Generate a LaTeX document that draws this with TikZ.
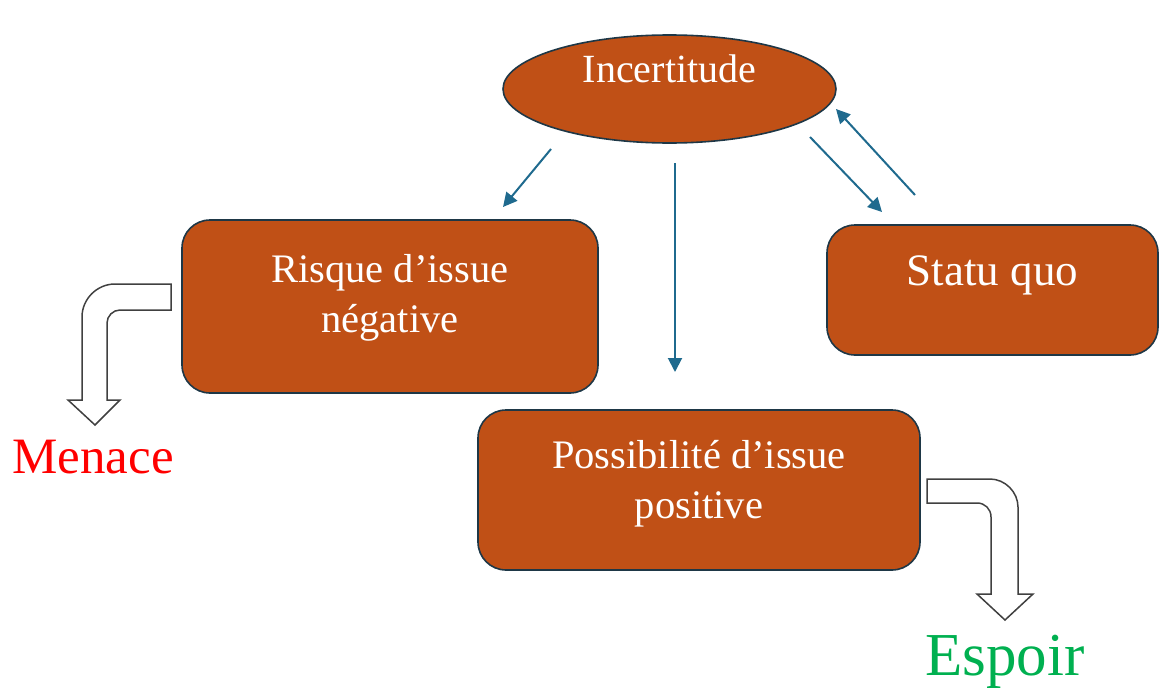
\documentclass[tikz,border=0pt]{standalone}
\usepackage{fontspec}
\setmainfont{Liberation Serif}
\usetikzlibrary{arrows.meta,shapes.geometric}

\definecolor{boxfill}{RGB}{192,80,22}
\definecolor{boxedge}{RGB}{30,55,70}
\definecolor{flow}{RGB}{31,106,142}
\definecolor{bentedge}{RGB}{64,64,64}
\definecolor{menacered}{RGB}{255,0,0}
\definecolor{espoirgreen}{RGB}{0,176,80}

\tikzset{
  card/.style={draw=boxedge, line width=1.6pt, fill=boxfill, rounded corners=28pt,
    rectangle, inner sep=0pt},
  bubble/.style={draw=boxedge, line width=1.6pt, fill=boxfill, ellipse, inner sep=0pt},
  cardtext/.style={text=white, align=center, anchor=base, inner sep=0pt,
    font=\fontsize{40.5}{50}\selectfont},
  flowarrow/.style={draw=flow, line width=2pt,
    -{Triangle[length=14pt,width=14pt]}},
  bent/.style={draw=bentedge, line width=1.5pt, fill=white, line join=miter},
  outcome/.style={anchor=base, inner sep=0pt}
}

\begin{document}
\begin{tikzpicture}[x=1pt,y=-1pt]
  \useasboundingbox (0,0) rectangle (1160,688);

  % shapes
  \node[bubble, minimum width=333pt, minimum height=108pt] (inc) at (669.5,89) {};
  \node[card, minimum width=416pt, minimum height=173pt] (risque) at (390,306.5) {};
  \node[card, minimum width=442pt, minimum height=160pt] (possib) at (699,490) {};
  \node[card, minimum width=331pt, minimum height=130pt] (statu) at (992.5,290) {};

  % texts (multi-line nodes sit on the baseline of their last line)
  \node[cardtext, font=\fontsize{40}{50}\selectfont] (inc-t) at (669.5,82) {Incertitude};
  \node[cardtext] (risque-t) at (390,332) {Risque d’issue\\négative};
  \node[cardtext] (possib-t) at (699,518) {Possibilité d’issue\\positive};
  \node[cardtext, font=\fontsize{45}{50}\selectfont] (statu-t) at (992.5,285) {Statu quo};

  \node[outcome, text=menacered, font=\fontsize{51}{52}\selectfont] (menace) at (93,473) {Menace};
  \node[outcome, text=espoirgreen, font=\fontsize{61}{62}\selectfont] (espoir) at (1005,675) {Espoir};

  % connector ends
  \coordinate (a1s) at (551,149);  \coordinate (a1e) at (503,207);
  \coordinate (a2s) at (675,163);  \coordinate (a2e) at (675,372);
  \coordinate (a3s) at (810,137);  \coordinate (a3e) at (882,212);
  \coordinate (a4s) at (915,195);  \coordinate (a4e) at (836,109);

  \draw[flowarrow] (a1s) -- (a1e);
  \draw[flowarrow] (a2s) -- (a2e);
  \draw[flowarrow] (a3s) -- (a3e);
  \draw[flowarrow] (a4s) -- (a4e);

  % bent block arrow towards "Menace"
  \draw[bent] (171,284) -- (115,284)
    .. controls (97,284) and (82,299) .. (82,317)
    -- (82,400) -- (68,400) -- (95,425) -- (120,400) -- (107,400) -- (107,323)
    .. controls (107,316) and (113,310) .. (120,310)
    -- (171,310) -- cycle;

  % bent block arrow towards "Espoir"
  \draw[bent] (927,479) -- (990,479)
    .. controls (1005,479) and (1018,492) .. (1018,507)
    -- (1018,594) -- (1033,594) -- (1005,620) -- (977,594) -- (991,594) -- (991,517)
    .. controls (991,509) and (985,503) .. (977,503)
    -- (927,503) -- cycle;
\end{tikzpicture}
\end{document}
